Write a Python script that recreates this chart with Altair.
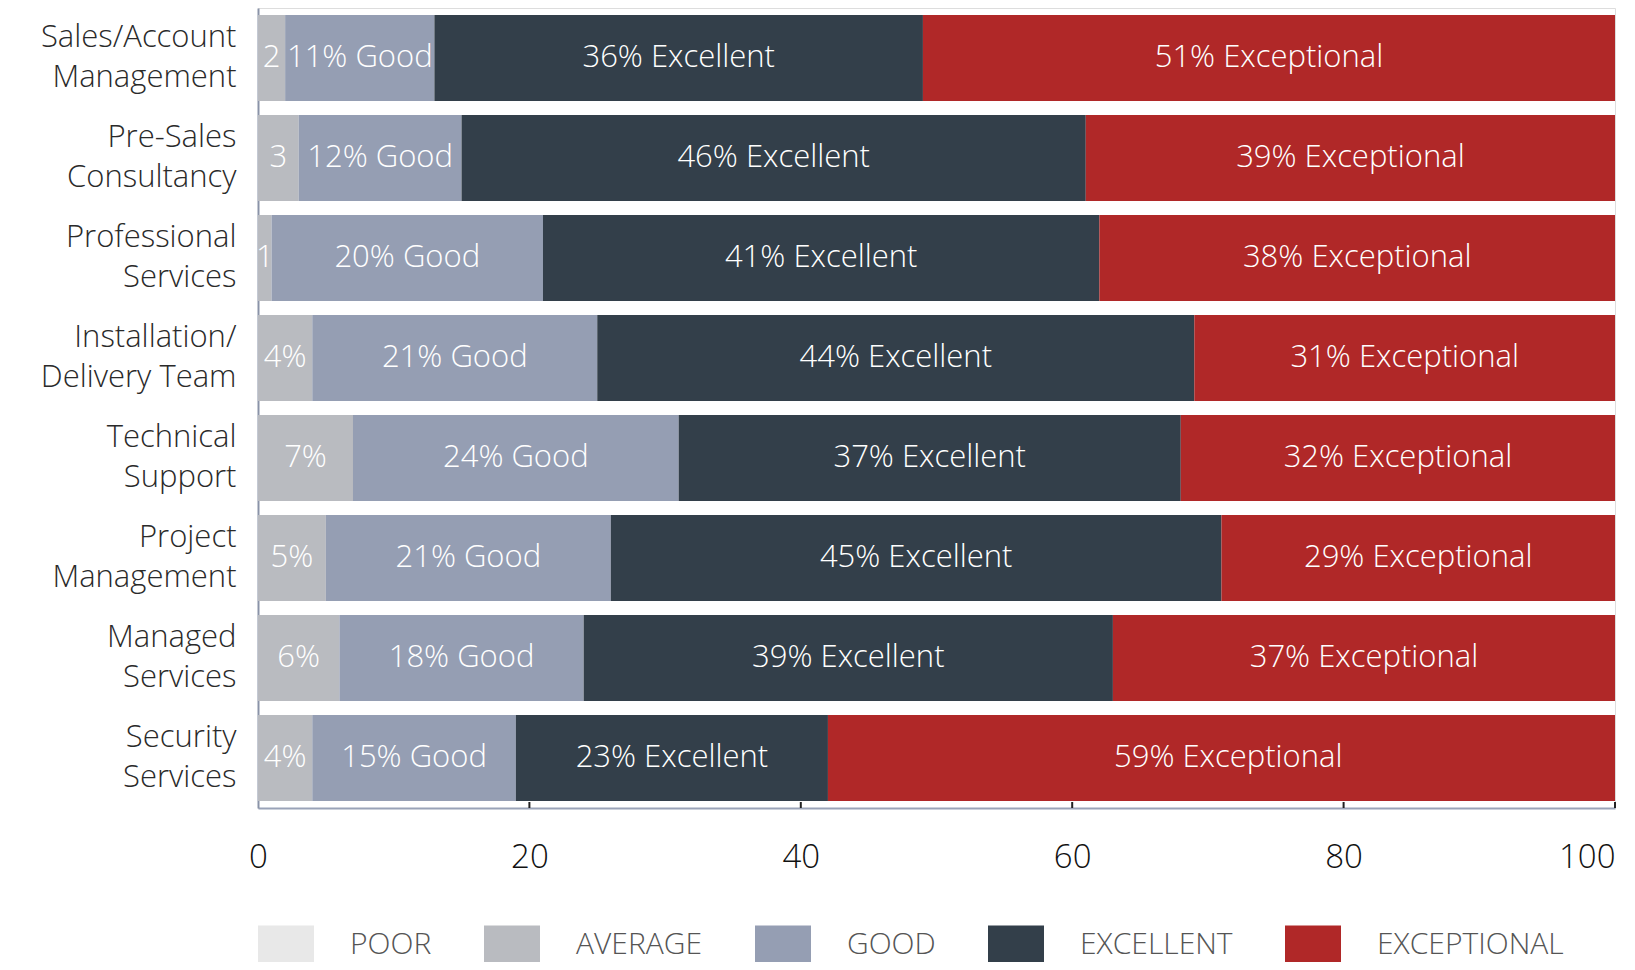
import altair as alt
import pandas as pd

categories = [
    "Sales/Account\nManagement",
    "Pre-Sales\nConsultancy",
    "Professional\nServices",
    "Installation/\nDelivery Team",
    "Technical\nSupport",
    "Project\nManagement",
    "Managed\nServices",
    "Security\nServices",
]
levels = ["POOR", "AVERAGE", "GOOD", "EXCELLENT", "EXCEPTIONAL"]
label_words = ["", "", "Good", "Excellent", "Exceptional"]
colors = ["#e8e8e8", "#b9bbc0", "#959eb3", "#333f4a", "#b02828"]

poor = [0, 0, 0, 0, 0, 0, 0, 0]
average = [2, 3, 1, 4, 7, 5, 6, 4]
good = [11, 12, 20, 21, 24, 21, 18, 15]
excellent = [36, 46, 41, 44, 37, 45, 39, 23]
exceptional = [51, 39, 38, 31, 32, 29, 37, 59]

tick_values = [0, 20, 40, 60, 80, 100]

series = [poor, average, good, excellent, exceptional]
rows = []
for i, c in enumerate(categories):
    for j, lvl in enumerate(levels):
        rows.append(dict(cat=c, level=lvl, rank=j, value=series[j][i], word=label_words[j]))
df = pd.DataFrame(rows)
ticks_df = pd.DataFrame({"t": tick_values[1:]})

W, H = 1357, 800
FONT = "Open Sans"

xscale = alt.Scale(domain=[0, 100], nice=False, zero=True)
yscale = alt.Scale(paddingInner=0.14, paddingOuter=0.07)

base = alt.Chart(df).transform_stack(
    stack="value", groupby=["cat"], as_=["x0", "x1"],
    sort=[alt.SortField("rank", order="ascending")]
).transform_calculate(
    mid="(datum.x0 + datum.x1) / 2",
    label="datum.value == 0 ? '' : (datum.value < 4 ? toString(datum.value) : "
          "datum.value + '%' + (datum.word ? ' ' + datum.word : ''))",
)

y_enc = alt.Y(
    "cat:N", sort=categories, scale=yscale,
    axis=alt.Axis(
        title=None, ticks=False, labelExpr="split(datum.label, '\\n')",
        labelFontSize=31, labelLineHeight=40, labelPadding=22, labelLimit=0,
        labelOffset=-20,
        labelColor="#2a2a2a", labelFont=FONT, labelFontWeight=300,
        domainColor="#8a93a8", domainWidth=2,
    ),
)

bars = base.mark_bar(clip=True).encode(
    x=alt.X("x0:Q", scale=xscale, title=None,
            axis=alt.Axis(values=tick_values, ticks=False, grid=False,
                          domainColor="#9aa3b8", domainWidth=2,
                          labelFontSize=33, labelPadding=33, labelColor="#111",
                          labelFont=FONT, labelFontWeight=300,
                          labelAlign={"condition": {"test": "datum.value === 100", "value": "right"},
                                      "value": "center"})),
    x2="x1:Q",
    y=y_enc,
    color=alt.Color(
        "level:N", scale=alt.Scale(domain=levels, range=colors),
        legend=alt.Legend(
            title=None, orient="none", legendX=0, legendY=909, direction="horizontal",
            symbolType="M-1,-0.7H1V0.7H-1Z", symbolSize=3136, symbolStrokeWidth=0,
            symbolOpacity=1, labelFontSize=30, labelColor="#555", labelFont=FONT,
            labelFontWeight=300, labelOffset=36, columnPadding=52, padding=0,
            labelLimit=0,
        ),
    ),
    order=alt.Order("rank:Q"),
)

texts = base.mark_text(color="white", fontSize=31, font=FONT, fontWeight=300,
                       baseline="middle", align="center").encode(
    x=alt.X("mid:Q", scale=xscale, title=None),
    y=alt.Y("cat:N", sort=categories, scale=yscale),
    text="label:N",
)

tick_marks = alt.Chart(ticks_df).mark_rule(color="#222", strokeWidth=2).encode(
    x=alt.X("t:Q", scale=xscale, title=None),
    y=alt.value(H - 6),
    y2=alt.value(H),
)

chart = alt.layer(bars, texts, tick_marks).properties(
    width=W, height=H,
    autosize=alt.AutoSizeParams(type="none"),
    padding={"left": 250, "top": 0, "right": 12, "bottom": 154},
).configure_view(stroke=None).configure(background="white")

chart.save("out.html", embed_options={"renderer": "svg", "actions": False})
